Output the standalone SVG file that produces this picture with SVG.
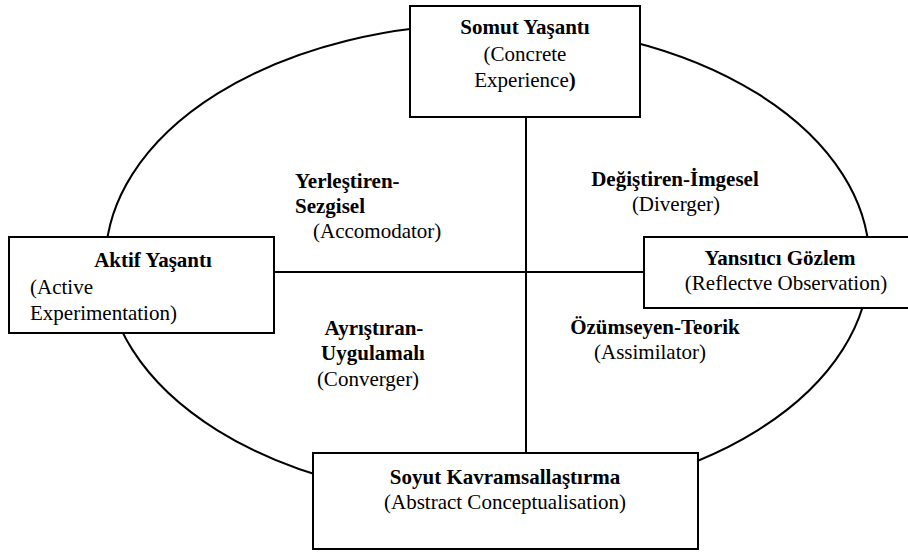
<svg xmlns="http://www.w3.org/2000/svg" width="908" height="552" viewBox="0 0 908 552" font-family="'Liberation Serif', 'DejaVu Serif', serif" font-size="21">
<style>
.box{fill:#fff;stroke:#000;stroke-width:2}
.ln{fill:none;stroke:#000;stroke-width:2}
text{font-family:'Liberation Serif','DejaVu Serif',serif;font-size:21px;fill:#000}
.b{font-weight:bold}
.c{text-anchor:middle}
</style>
<rect width="908" height="552" fill="#fff"/>
<g id="connectors">
<ellipse class="ln" cx="487.5" cy="262" rx="382" ry="238"/>
<line class="ln" x1="526" y1="117" x2="526" y2="453"/>
<line class="ln" x1="274" y1="272" x2="644" y2="272"/>
</g>
<g id="concrete">
<rect class="box" x="410" y="6" width="230" height="111"/>
<text class="b c" x="525" y="34">Somut Yaşantı</text>
<text class="c" x="525" y="61">(Concrete</text>
<text class="c" x="525" y="87">Experience<tspan class="b">)</tspan></text>
</g>
<g id="active">
<rect class="box" x="9" y="237" width="265" height="96"/>
<text class="b c" x="153" y="267">Aktif Yaşantı</text>
<text x="30" y="294">(Active</text>
<text x="30" y="320">Experimentation)</text>
</g>
<g id="reflective">
<rect class="box" x="644" y="237" width="270" height="71"/>
<text class="b c" x="780" y="265">Yansıtıcı Gözlem</text>
<text class="c" x="786" y="290">(Reflectve Observation)</text>
</g>
<g id="abstract">
<rect class="box" x="313" y="453" width="385" height="96"/>
<text class="b c" x="505" y="484">Soyut Kavramsallaştırma</text>
<text class="c" x="505" y="509">(Abstract Conceptualisation)</text>
</g>
<g id="accomodator">
<text class="b" x="295" y="188">Yerleştiren-</text>
<text class="b" x="295" y="213">Sezgisel</text>
<text x="313" y="238">(Accomodator)</text>
</g>
<g id="diverger">
<text class="b c" x="675" y="186">Değiştiren-İmgesel</text>
<text class="c" x="676" y="211">(Diverger)</text>
</g>
<g id="converger">
<text class="b c" x="374" y="335">Ayrıştıran-</text>
<text class="b c" x="373" y="360">Uygulamalı</text>
<text class="c" x="368" y="386">(Converger)</text>
</g>
<g id="assimilator">
<text class="b c" x="655" y="334">Özümseyen-Teorik</text>
<text class="c" x="650" y="359">(Assimilator)</text>
</g>
</svg>
